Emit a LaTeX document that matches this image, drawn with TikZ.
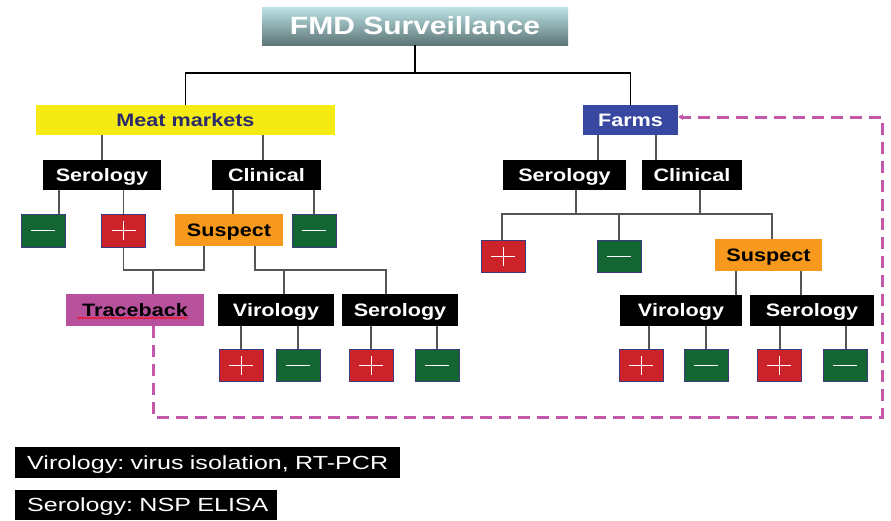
\documentclass[tikz,border=0pt]{standalone}
\usepackage{fontspec}
\setmainfont{Liberation Sans}[FakeStretch=1.2]
\newfontfamily\legendfont{Liberation Sans}[FakeStretch=1.32]
\usetikzlibrary{decorations.pathmorphing,arrows.meta}

\definecolor{titletop}{HTML}{BCE3E5}
\definecolor{titlebot}{HTML}{5E7577}
\definecolor{mmyellow}{HTML}{F4EA14}
\definecolor{mmtext}{HTML}{2B2A6B}
\definecolor{farmblue}{HTML}{3848A0}
\definecolor{susporange}{HTML}{F7991C}
\definecolor{plusred}{HTML}{CC2229}
\definecolor{minusgreen}{HTML}{136532}
\definecolor{signedge}{HTML}{3B3B7B}
\definecolor{tracemag}{HTML}{B8519C}
\definecolor{loopmag}{HTML}{C358A8}
\definecolor{conngray}{HTML}{555555}

\tikzset{
  labelbox/.style={rectangle, inner sep=0pt, fill=black, text=white,
    font=\bfseries\fontsize{18}{18}\selectfont, text height=12.9pt, text depth=0pt},
  legendbox/.style={rectangle, inner sep=0pt, fill=black, text=white, anchor=west,
    font=\legendfont\frenchspacing\fontsize{19}{19}\selectfont, text height=13.6pt, text depth=0pt,
    align=left},
  signbox/.style={rectangle, draw=signedge, line width=0.8pt,
    minimum width=44pt, minimum height=33pt, inner sep=0pt},
  plusbox/.style={signbox, fill=plusred,
    path picture={\draw[white, line width=0.9pt]
      ([xshift=-12pt]path picture bounding box.center) -- ([xshift=12pt]path picture bounding box.center)
      ([yshift=-9.5pt]path picture bounding box.center) -- ([yshift=9.5pt]path picture bounding box.center);}},
  minusbox/.style={signbox, fill=minusgreen,
    path picture={\draw[white, line width=0.9pt]
      ([xshift=-12pt]path picture bounding box.center) -- ([xshift=12pt]path picture bounding box.center);}},
  conn/.style={draw=conngray, line width=1.4pt},
  topconn/.style={draw=black, line width=1.2pt}
}

\begin{document}
\begin{tikzpicture}[x=1pt, y=-1pt]
\useasboundingbox (0,0) rectangle (891,520);

% title with vertical shading
\shade[top color=titletop, bottom color=titlebot] (262,7) rectangle (568,45);
\node[inner sep=0pt, text=white, font=\bfseries\fontsize{25}{25}\selectfont,
      text height=17.9pt, text depth=0pt,
      minimum width=306pt, minimum height=38pt] (title) at (415,26) {FMD Surveillance};

% first level
\node[labelbox, fill=mmyellow, text=mmtext, minimum width=299pt, minimum height=30pt] (mm) at (185.5,120) {Meat markets};
\node[labelbox, fill=farmblue, minimum width=95pt, minimum height=30pt] (farms) at (630.5,120) {Farms};

% meat market branch
\node[labelbox, minimum width=118pt, minimum height=30pt] (mmsero) at (102,175) {Serology};
\node[labelbox, minimum width=109pt, minimum height=30pt] (mmclin) at (266.5,175) {Clinical};
\node[minusbox] (m1) at (43,230.5) {};
\node[plusbox] (p1) at (123.5,230.5) {};
\node[labelbox, fill=susporange, text=black, minimum width=108pt, minimum height=32pt] (susp1) at (229,230) {Suspect};
\node[minusbox] (m2) at (314,230.5) {};
\node[labelbox, fill=tracemag, text=black, minimum width=138pt, minimum height=32pt] (trace) at (135,310) {Traceback};
\node[labelbox, minimum width=116pt, minimum height=32pt] (vir1) at (276,310) {Virology};
\node[labelbox, minimum width=116pt, minimum height=32pt] (ser1) at (400,310) {Serology};
\node[plusbox, minimum height=32pt] (p2) at (241,365) {};
\node[minusbox, minimum height=32pt] (m3) at (298,365) {};
\node[plusbox, minimum height=32pt] (p3) at (371,365) {};
\node[minusbox, minimum height=32pt] (m4) at (437,365) {};

% farm branch
\node[labelbox, minimum width=123pt, minimum height=30pt] (fser) at (564.5,175) {Serology};
\node[labelbox, minimum width=100pt, minimum height=30pt] (fclin) at (692,175) {Clinical};
\node[plusbox, minimum height=32pt] (p4) at (503,256) {};
\node[minusbox, minimum height=32pt] (m5) at (619,256) {};
\node[labelbox, fill=susporange, text=black, minimum width=107pt, minimum height=32pt] (susp2) at (768.5,255) {Suspect};
\node[labelbox, minimum width=122pt, minimum height=31pt] (vir2) at (681,310.5) {Virology};
\node[labelbox, minimum width=124pt, minimum height=31pt] (ser2) at (812,310.5) {Serology};
\node[plusbox, minimum height=32pt] (p5) at (641,365) {};
\node[minusbox, minimum height=32pt] (m6) at (706,365) {};
\node[plusbox, minimum height=32pt] (p6) at (779,365) {};
\node[minusbox, minimum height=32pt] (m7) at (845,365) {};

% legend
\node[legendbox, minimum width=385pt, minimum height=31pt, text width=377pt]
  (leg1) at (15,462.5) {\hspace*{8pt}Virology: virus isolation, RT-PCR};
\node[legendbox, minimum width=262pt, minimum height=30pt, text width=254pt]
  (leg2) at (15,505) {\hspace*{8pt}Serology: NSP ELISA};

% spell-check underline under Traceback
\draw[red, line width=0.6pt, decorate, decoration={snake, amplitude=0.8pt, segment length=3pt}]
  ([xshift=-58pt,yshift=-8pt]trace.center) -- ([xshift=53pt,yshift=-8pt]trace.center);

% top connectors
\coordinate (top) at (415,73);
\draw[topconn] (title.south) -- (top);
\draw[topconn] (mm.north) |- (top) -| (farms.north);

% meat market connectors
\draw[conn] ([xshift=-83.5pt]mm.south) -- (mmsero.north);
\draw[conn] ([xshift=-3.5pt]mmclin.north) -- ([xshift=-3.5pt]mmclin.north |- mm.south);
\draw[conn] ([xshift=16pt]m1.north) -- ([xshift=16pt]m1.north |- mmsero.south);
\draw[conn] (p1.north) -- (p1.north |- mmsero.south);
\draw[conn] ([xshift=4pt]susp1.north) -- ([xshift=4pt]susp1.north |- mmclin.south);
\draw[conn] (m2.north) -- (m2.north |- mmclin.south);
\coordinate (j1) at (153,270);
\coordinate (j2) at (284,270);
\draw[conn] (p1.south) |- (j1) -| ([xshift=-25pt]susp1.south);
\draw[conn] (j1) -- ([xshift=18pt]trace.north);
\draw[conn] ([xshift=26pt]susp1.south) |- (j2) -| ([xshift=-14pt]ser1.north);
\draw[conn] (j2) -- ([xshift=8pt]vir1.north);
\draw[conn] (p2.north) -- (p2.north |- vir1.south);
\draw[conn] (m3.north) -- (m3.north |- vir1.south);
\draw[conn] (p3.north) -- (p3.north |- ser1.south);
\draw[conn] (m4.north) -- (m4.north |- ser1.south);

% farm connectors
\draw[conn] ([xshift=-32.5pt]farms.south) -- ([xshift=-32.5pt]farms.south |- fser.north);
\draw[conn] ([xshift=25.5pt]farms.south) -- ([xshift=25.5pt]farms.south |- fclin.north);
\coordinate (j3) at (576,214);
\coordinate (j4) at (700,214);
\draw[conn] ([xshift=11.5pt]fser.south) -- (j3);
\draw[conn] ([xshift=8pt]fclin.south) -- (j4);
\draw[conn] ([xshift=-1pt]p4.north) |- (j3) -- (j4) -| ([xshift=3.5pt]susp2.north);
\draw[conn] (m5.north) -- (m5.north |- j3);
\draw[conn] ([xshift=-32.5pt]susp2.south) -- ([xshift=-32.5pt]susp2.south |- vir2.north);
\draw[conn] ([xshift=32.5pt]susp2.south) -- ([xshift=32.5pt]susp2.south |- ser2.north);
\draw[conn] ([xshift=8pt]p5.north) -- ([xshift=8pt]p5.north |- vir2.south);
\draw[conn] (m6.north) -- (m6.north |- vir2.south);
\draw[conn] ([xshift=1pt]p6.north) -- ([xshift=1pt]p6.north |- ser2.south);
\draw[conn] ([xshift=1pt]m7.north) -- ([xshift=1pt]m7.north |- ser2.south);

% traceback feeds back to farms
\coordinate (lp1) at (153,417);
\coordinate (lp2) at (882,117);
\draw[color=loopmag, line width=3pt, dash pattern=on 12pt off 7pt,
      -{Triangle[length=5pt,width=6pt]}]
  ([xshift=18pt]trace.south) -- (lp1) -| (lp2) -- ([yshift=3pt]farms.east);
\end{tikzpicture}
\end{document}
